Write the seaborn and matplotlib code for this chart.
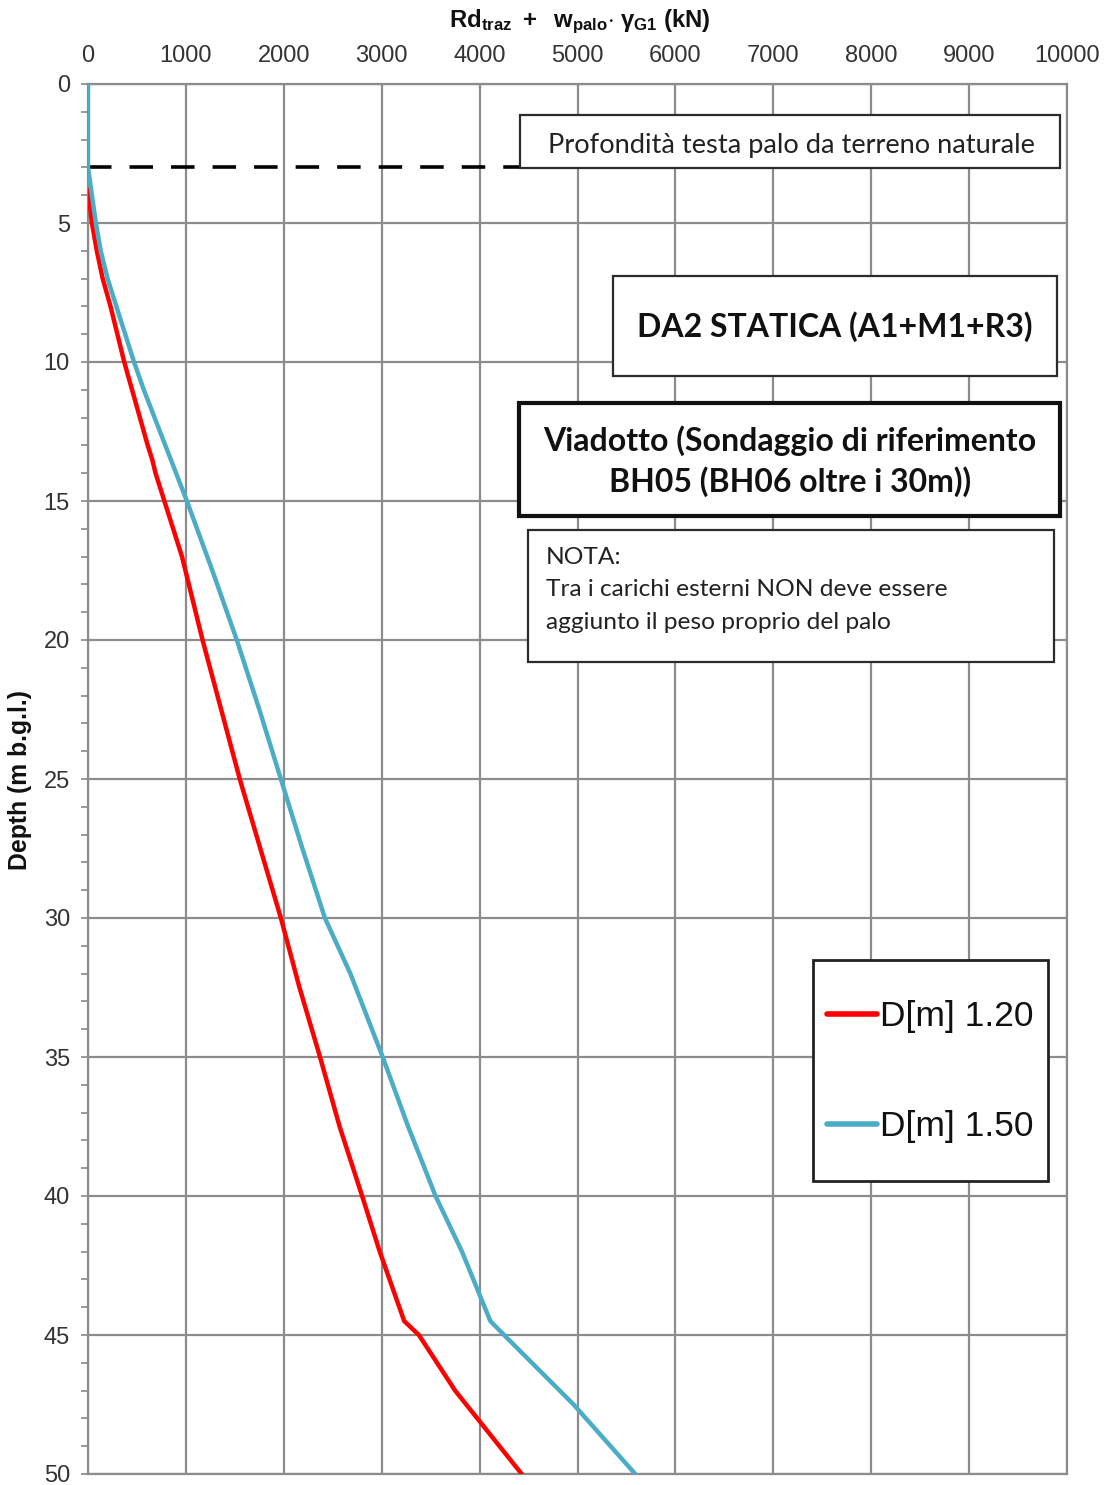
import matplotlib
matplotlib.use("Agg")
import matplotlib.pyplot as plt
import seaborn as sns
import pandas as pd
import numpy as np
from matplotlib.patches import Rectangle

# ---------------- data ----------------
red_depth = [3.8, 5, 6, 7, 8, 9, 10, 11, 12, 13, 13.5, 14, 15, 17, 20, 22.5, 25, 27.5, 30,
             32.5, 35, 37.5, 40, 42, 44.5, 45, 47, 50]
red_load = [0, 40, 90, 150, 230, 300, 370, 450, 530, 610, 655, 690, 780, 960, 1170, 1360, 1550,
            1760, 1970, 2160, 2370, 2570, 2800, 2980, 3230, 3380, 3750, 4430]

blue_depth = [0, 3, 4, 5, 6, 7, 8, 9, 10, 11, 12, 13, 15, 17.5, 20, 22.5, 25, 27.5, 30, 32,
              35, 37.5, 40, 42, 44.5, 45, 47.5, 50]
blue_load = [0, 0, 40, 80, 130, 200, 290, 380, 470, 570, 680, 790, 1010, 1270, 1520, 1750, 1970,
             2190, 2420, 2680, 3010, 3270, 3550, 3820, 4110, 4250, 4960, 5590]

series_labels = ["D[m] 1.20", "D[m] 1.50"]
x_ticks = [0, 1000, 2000, 3000, 4000, 5000, 6000, 7000, 8000, 9000, 10000]
y_ticks = [0, 5, 10, 15, 20, 25, 30, 35, 40, 45, 50]
pile_head_depth = 3.0

df = pd.concat([
    pd.DataFrame({"load": red_load, "depth": red_depth, "serie": series_labels[0]}),
    pd.DataFrame({"load": blue_load, "depth": blue_depth, "serie": series_labels[1]}),
], ignore_index=True)

# ---------------- style ----------------
sns.set_theme(style="white")
plt.rcParams["font.family"] = ["Liberation Sans", "DejaVu Sans"]
plt.rcParams["mathtext.fontset"] = "custom"
plt.rcParams["mathtext.bf"] = "Liberation Sans:bold"
plt.rcParams["mathtext.rm"] = "Liberation Sans"
plt.rcParams["mathtext.it"] = "Liberation Sans:italic"

W, H = 1111, 1485
fig = plt.figure(figsize=(W / 100, H / 100), dpi=100)
L, R, T, B = 88, 1067, 84, 1474
ax = fig.add_axes([L / W, 1 - B / H, (R - L) / W, (B - T) / H])

palette = {series_labels[0]: "#ff0000", series_labels[1]: "#4bacc6"}
sns.lineplot(data=df, x="load", y="depth", hue="serie", palette=palette, orient="y",
             estimator=None, sort=False, lw=3.2, ax=ax, legend=True, zorder=4)

ax.set_xlim(0, 10000)
ax.set_ylim(50, 0)
ax.set_xticks(x_ticks)
ax.set_yticks(y_ticks)
ax.set_yticks(np.arange(0, 51, 1), minor=True)
ax.xaxis.tick_top()
ax.tick_params(axis="x", which="both", length=0, pad=12, labelsize=17, labelcolor="#333333")
ax.tick_params(axis="y", which="major", length=5, width=1.2, color="#888888", pad=8,
               labelsize=17, labelcolor="#333333", left=True)
ax.tick_params(axis="y", which="minor", length=5, width=1.2, color="#888888", left=True)
ax.grid(True, which="major", color="#8c8c8c", lw=1.6)
ax.set_axisbelow(True)
for s in ax.spines.values():
    s.set_color("#8c8c8c")
    s.set_linewidth(1.6)
ax.set_xlabel("")
ax.set_ylabel("")

# dashed line: pile head depth
ax.plot([0, 9900], [pile_head_depth, pile_head_depth], color="black", lw=2.6,
        dashes=(6.5, 5), zorder=3)

fig.canvas.draw()
renderer = fig.canvas.get_renderer()


def fit(txt, target_px):
    w = txt.get_window_extent(renderer).width
    txt.set_fontsize(txt.get_fontsize() * target_px / w)


def px2data(px, py):
    return (px - L) / (R - L) * 10000, (py - T) / (B - T) * 50


def box(x0, y0, x1, y1, lw=1.6, ec="#2b2b2b", z=5):
    dx0, dy0 = px2data(x0, y0)
    dx1, dy1 = px2data(x1, y1)
    ax.add_patch(Rectangle((dx0, dy0), dx1 - dx0, dy1 - dy0, facecolor="white",
                           edgecolor=ec, lw=lw, zorder=z))


cal = ["Lato", "DejaVu Sans"]

# Box 1
box(520, 115, 1060, 168)
x, y = px2data(791, 145)
t1 = ax.text(x, y, "Profondità testa palo da terreno naturale", ha="center", va="center",
             family=cal, fontsize=16, color="#222222", zorder=6)
fit(t1, 490)

# Box 2
box(613, 276, 1057, 376)
x, y = px2data(835, 327)
t2 = ax.text(x, y, "DA2 STATICA (A1+M1+R3)", ha="center", va="center", family=cal,
             fontweight="bold", fontsize=20, color="#111111", zorder=6)
fit(t2, 394)

# Box 3
box(519, 403, 1060, 516, lw=3.0, ec="#111111")
x, y = px2data(790, 441)
t3 = ax.text(x, y, "Viadotto (Sondaggio di riferimento", ha="center", va="center", family=cal,
             fontweight="bold", fontsize=20, color="#111111", zorder=6)
fit(t3, 494)
x, y = px2data(790, 482)
t3b = ax.text(x, y, "BH05 (BH06 oltre i 30m))", ha="center", va="center", family=cal,
              fontweight="bold", fontsize=t3.get_fontsize(), color="#111111", zorder=6)

# Box 4
box(528, 530, 1054, 662)
x, y = px2data(546, 557)
t4a = ax.text(x, y, "NOTA:", ha="left", va="center", family=cal, fontsize=15,
              color="#222222", zorder=6)
x, y = px2data(546, 590)
t4b = ax.text(x, y, "Tra i carichi esterni NON deve essere", ha="left", va="center", family=cal,
              fontsize=15, color="#222222", zorder=6)
fit(t4b, 401)
t4a.set_fontsize(t4b.get_fontsize())
x, y = px2data(546, 622)
ax.text(x, y, "aggiunto il peso proprio del palo", ha="left", va="center", family=cal,
        fontsize=t4b.get_fontsize(), color="#222222", zorder=6)

# Legend (frame drawn as a separate box)
box(813, 960, 1048, 1181, lw=2.0, ec="#222222", z=6)
lcx, lcy = (930.5 - L) / (R - L), 1 - (1071.5 - T) / (B - T)
leg = ax.legend(loc="center", bbox_to_anchor=(lcx, lcy), borderaxespad=0, frameon=False,
                fontsize=25.5, handlelength=1.41, handletextpad=0.09, labelspacing=2.17,
                borderpad=0.0, title=None)
leg.set_zorder(7)
for lh in leg.get_lines():
    lh.set_linewidth(4)
for tx in leg.get_texts():
    tx.set_color("#111111")

# axis titles
xl = fig.text(580 / W, 1 - 22 / H,
              r"$\mathbf{Rd}_{\mathbf{traz}}\mathbf{\ +\ \ w}_{\mathbf{palo}}\mathbf{\cdot}\ \mathbf{\gamma}_{\mathbf{G1}}\mathbf{\ (kN)}$",
              ha="center", va="center", fontsize=15, color="#111111")
fit(xl, 262)
yl = fig.text(20 / W, 1 - 780 / H, "Depth (m b.g.l.)", rotation=90, ha="center", va="center",
              fontweight="bold", fontsize=13, color="#111111")
fit_h = yl.get_window_extent(renderer).height
yl.set_fontsize(yl.get_fontsize() * 180 / fit_h)

fig.savefig("out.png", dpi=100)
